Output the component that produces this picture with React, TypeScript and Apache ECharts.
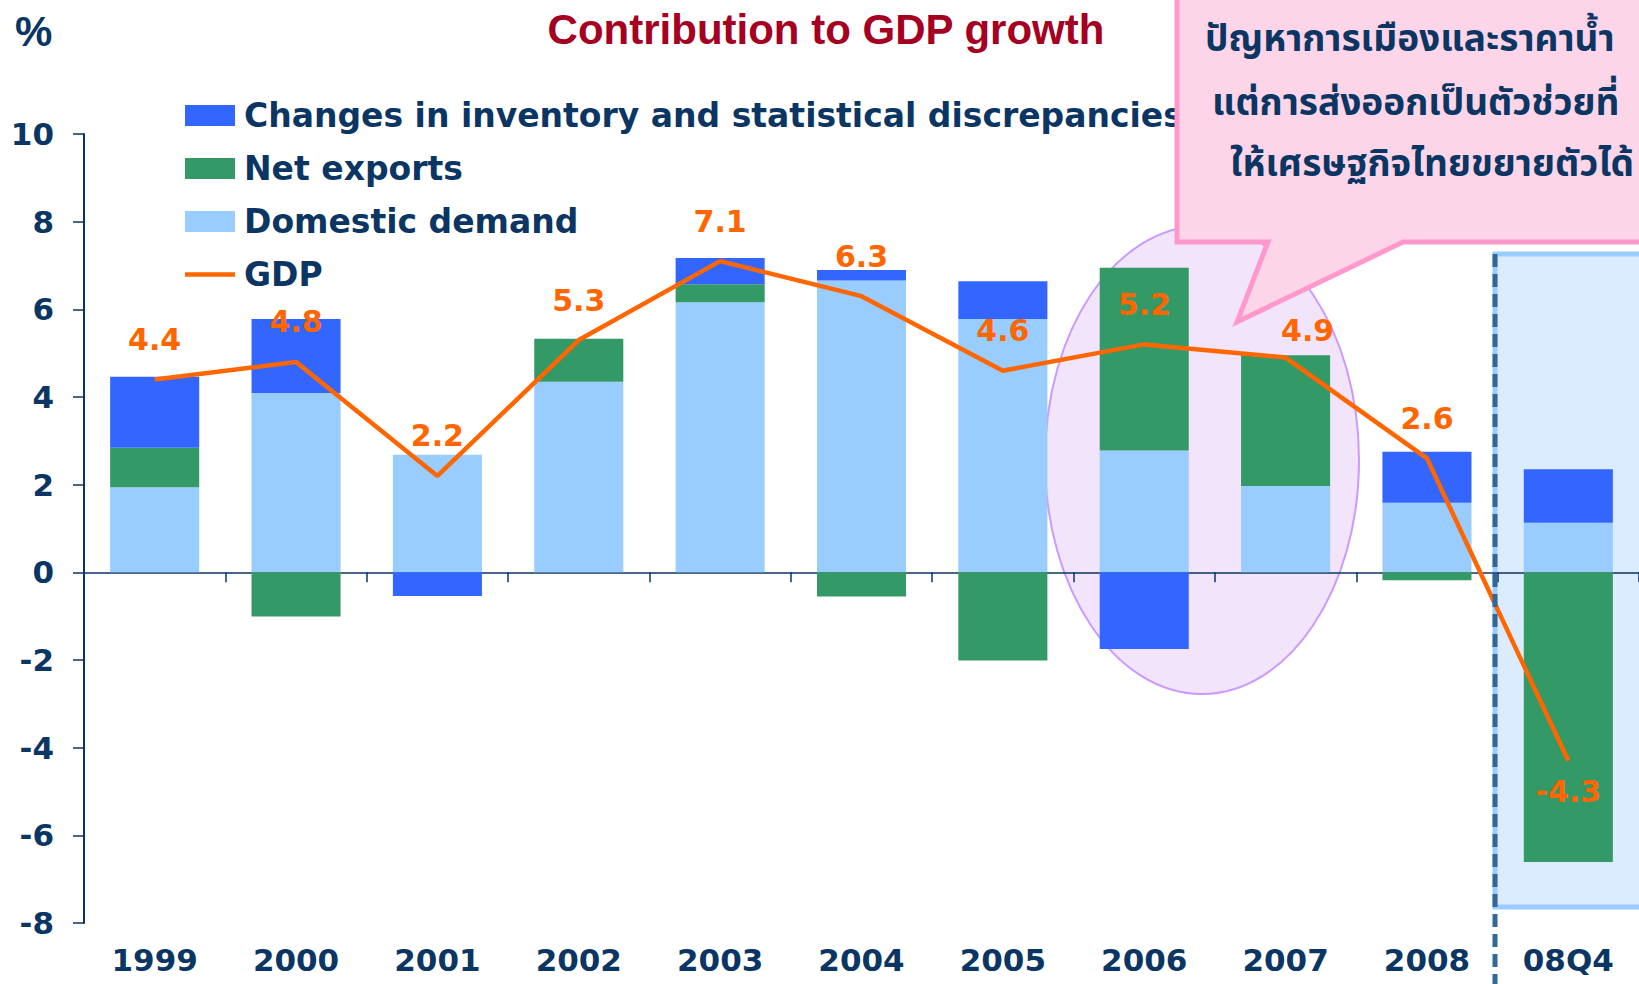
import React, { useEffect, useRef } from "react";
import * as echarts from "echarts";

const categories = ["1999", "2000", "2001", "2002", "2003", "2004", "2005", "2006", "2007", "2008", "08Q4"];
const domesticDemand = [1.94, 4.09, 2.68, 4.35, 6.16, 6.66, 5.78, 2.78, 1.97, 1.59, 1.13];
const netExports = [0.9, -1.01, 0, 0.98, 0.41, -0.55, -2.01, 4.17, 2.98, -0.18, -6.61];
const inventory = [1.62, 1.69, -0.54, 0, 0.6, 0.24, 0.86, -1.75, 0, 1.16, 1.22];
const gdp = [4.4, 4.8, 2.2, 5.3, 7.1, 6.3, 4.6, 5.2, 4.9, 2.6, -4.3];
const yTicks = { min: -8, max: 10, interval: 2 };
const legendNames = ["Changes in inventory and statistical discrepancies", "Net exports", "Domestic demand", "GDP"];
const calloutLines = ["ปัญหาการเมืองและราคาน้ำ", "แต่การส่งออกเป็นตัวช่วยที่", "ให้เศรษฐกิจไทยขยายตัวได้"];

const NAVY = "#0b3563";
const ORANGE = "#ff6600";
const FONT = "'DejaVu Sans', Verdana, sans-serif";
const ARIAL = "'Liberation Sans', Arial, sans-serif";
const THAI = "'Noto Sans Thai', 'Loma', 'Garuda', 'Norasi', 'Tlwg Typo', 'Noto Sans', sans-serif";

export default function App() {
  const ref = useRef<HTMLDivElement>(null);
  useEffect(() => {
    if (!ref.current) return;
    const chart = echarts.init(ref.current, undefined, { renderer: "svg" });
    const gdpData = gdp.map((v, i) => {
      const item: any = { value: v };
      if (v < 0) item.label = { position: "bottom", distance: 16 };
      if (categories[i] === "2007") item.label = { position: "top", distance: 12, offset: [22, 0] };
      return item;
    });
    const calloutStarts = [1205, 1212, 1230];
    const calloutTops = [21, 85, 146];
    chart.setOption({
      animation: false,
      backgroundColor: "#ffffff",
      title: {
        text: "Contribution to GDP growth",
        left: 821,
        top: 3,
        textAlign: "center",
        textStyle: { fontFamily: ARIAL, fontWeight: "bold", fontSize: 42, color: "#a50021" },
      },
      legend: {
        orient: "vertical",
        left: 180,
        top: 94,
        itemWidth: 50,
        itemHeight: 21,
        itemGap: 20,
        icon: "rect",
        data: [
          { name: legendNames[0] },
          { name: legendNames[1] },
          { name: legendNames[2] },
          { name: legendNames[3], icon: "path://M0,0H50V4.5H0Z" },
        ],
        textStyle: { fontFamily: FONT, fontWeight: "bold", fontSize: 33, color: NAVY, lineHeight: 32, padding: [0, 0, 0, 4] },
      },
      grid: { left: 84, right: 0, top: 134, bottom: 61, containLabel: false },
      xAxis: [
        {
          type: "category",
          data: categories,
          axisLine: { onZero: true, lineStyle: { color: NAVY, width: 1.5 } },
          axisTick: { show: true, length: 10, lineStyle: { color: NAVY, width: 1.5 } },
          axisLabel: { show: false },
        },
        {
          type: "category",
          data: categories,
          position: "bottom",
          axisLine: { show: false, onZero: false },
          axisTick: { show: false },
          axisLabel: { margin: 21, fontFamily: FONT, fontWeight: "bold", fontSize: 31, color: NAVY },
        },
      ],
      yAxis: {
        type: "value",
        min: yTicks.min,
        max: yTicks.max,
        interval: yTicks.interval,
        axisLine: { show: true, lineStyle: { color: NAVY, width: 2 } },
        axisTick: { show: true, length: 11, lineStyle: { color: NAVY, width: 1.5 } },
        splitLine: { show: false },
        axisLabel: { margin: 30, fontFamily: FONT, fontWeight: "bold", fontSize: 31, color: NAVY },
      },
      series: [
        {
          name: legendNames[2],
          type: "bar",
          stack: "c",
          barWidth: "63%",
          data: domesticDemand,
          itemStyle: { color: "#99ccff" },
          z: 3,
        },
        {
          name: legendNames[1],
          type: "bar",
          stack: "c",
          data: netExports,
          itemStyle: { color: "#339966" },
          z: 3,
        },
        {
          name: legendNames[0],
          type: "bar",
          stack: "c",
          data: inventory,
          itemStyle: { color: "#3366ff" },
          z: 3,
        },
        {
          name: legendNames[3],
          type: "line",
          data: gdpData,
          symbol: "circle",
          symbolSize: 0,
          showSymbol: true,
          lineStyle: { color: ORANGE, width: 4.5 },
          itemStyle: { color: ORANGE },
          z: 10,
          label: {
            show: true,
            position: "top",
            distance: 25,
            formatter: (p: any) => Number(p.value).toFixed(1),
            fontFamily: FONT,
            fontWeight: "bold",
            fontSize: 30,
            color: ORANGE,
          },
        },
      ],
      graphic: [
        {
          type: "ellipse",
          z: 0,
          shape: { cx: 1202, cy: 460, rx: 157, ry: 234 },
          style: { fill: "#f1e4fb", stroke: "#cc99ff", lineWidth: 2 },
        },
        {
          type: "rect",
          z: 0,
          shape: { x: 1495, y: 254, width: 170, height: 653 },
          style: { fill: "#dcecff", stroke: "#99ccff", lineWidth: 5 },
        },
        {
          type: "line",
          z: 20,
          shape: { x1: 1495, y1: 254, x2: 1495, y2: 990 },
          style: { stroke: "#336699", lineWidth: 5, lineDash: [13, 7] },
        },
        {
          type: "polygon",
          z: 30,
          shape: {
            points: [
              [1177, -10],
              [1177, 242],
              [1268, 242],
              [1237, 322],
              [1403, 242],
              [1660, 242],
              [1660, -10],
            ],
          },
          style: { fill: "#fcd5e8", stroke: "#ff99cc", lineWidth: 5 },
        },
        ...calloutLines.map((t, i) => ({
          type: "text",
          z: 31,
          left: calloutStarts[i],
          top: calloutTops[i],
          style: { text: t, font: `bold 37px ${THAI}`, fill: NAVY },
        })),
        {
          type: "text",
          z: 31,
          left: 15,
          top: 10,
          style: { text: "%", font: `bold 42px ${ARIAL}`, fill: NAVY },
        },
      ],
    });
    return () => chart.dispose();
  }, []);
  return (
    <div
      ref={ref}
      style={{ position: "fixed", left: 0, top: 0, width: 1639, height: 984, background: "#fff" }}
    />
  );
}
